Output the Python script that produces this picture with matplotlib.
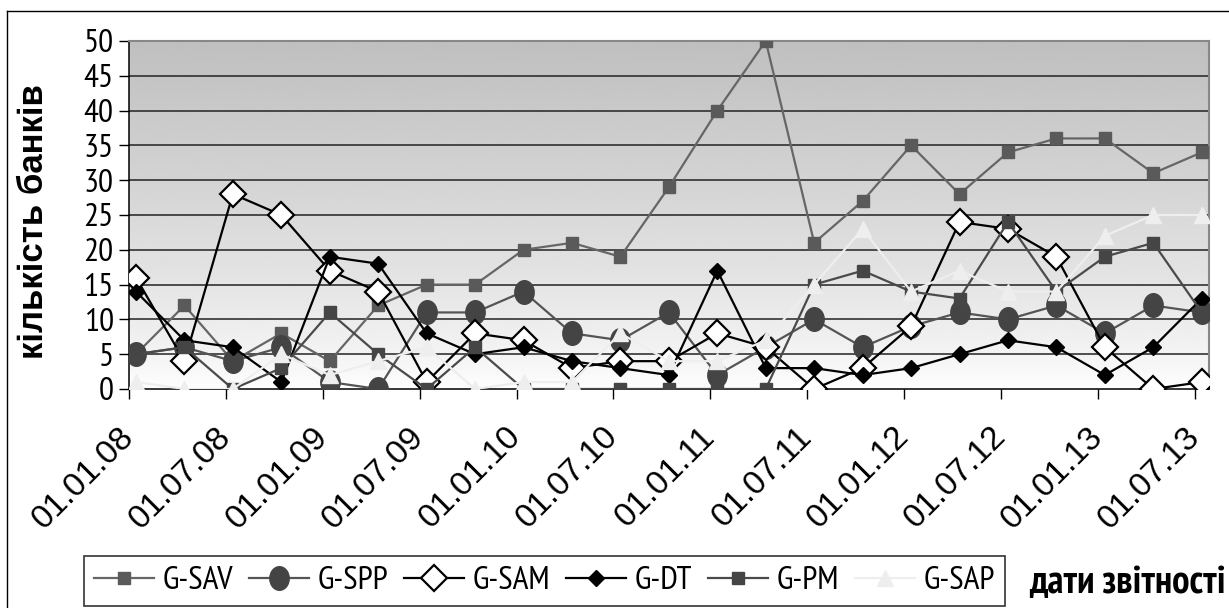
import numpy as np
import matplotlib.pyplot as plt
from matplotlib import font_manager
from matplotlib.path import Path
from matplotlib.lines import Line2D

# quarterly reporting dates, labelled every half year
dates = ['01.01.08', '01.07.08', '01.01.09', '01.07.09', '01.01.10', '01.07.10',
         '01.01.11', '01.07.11', '01.01.12', '01.07.12', '01.01.13', '01.07.13']

g_sav = [5, 12, 4, 8, 4, 12, 15, 15, 20, 21, 19, 29, 40, 50, 21, 27, 35, 28, 34, 36, 36, 31, 34]
g_spp = [5, 6, 4, 6, 1, 0, 11, 11, 14, 8, 7, 11, 2, 6, 10, 6, 9, 11, 10, 12, 8, 12, 11]
g_sam = [16, 4, 28, 25, 17, 14, 1, 8, 7, 3, 4, 4, 8, 6, 0, 3, 9, 24, 23, 19, 6, 0, 1]
g_dt = [14, 7, 6, 1, 19, 18, 8, 5, 6, 4, 3, 2, 17, 3, 3, 2, 3, 5, 7, 6, 2, 6, 13]
g_pm = [5, 6, 0, 3, 11, 5, 0, 6, 0, 0, 0, 0, 0, 0, 15, 17, 14, 13, 24, 14, 19, 21, 11]
g_sap = [1, 0, 0, 5, 2, 4, 6, 0, 1, 1, 8, 4, 4, 7, 15, 23, 14, 17, 14, 14, 22, 25, 25]

# pick a narrow Arial-like face if one is installed
avail = {f.name for f in font_manager.fontManager.ttflist}
narrow_name = next((n for n in ['Liberation Sans Narrow', 'Arimo Narrow', 'PT Sans Narrow',
                                'Roboto Condensed', 'Archivo Narrow'] if n in avail),
                   'Liberation Sans')
narrow = [narrow_name, 'DejaVu Sans']
regular = ['Liberation Sans', 'DejaVu Sans']
plt.rcParams['font.family'] = narrow

# slightly tall ellipse for the circle markers
circ = Path.unit_circle()
ellipse = Path(circ.vertices * np.array([0.82, 1.0]), circ.codes)

fig = plt.figure(figsize=(12.29, 6.08), dpi=100)
ax = fig.add_axes([0.10497, 0.36020, 0.87876, 0.57237])

x = np.arange(len(g_sav))
x0, x1 = -0.144, 22.15
ax.set_xlim(x0, x1)
ax.set_ylim(0, 50)

# grey-to-white vertical gradient behind the plot
t = np.linspace(1, 0, 256).reshape(-1, 1)
grad = 1 - 0.25 * t ** 0.75
ax.imshow(grad, extent=[x0, x1, 0, 50], aspect='auto', cmap='gray',
          vmin=0, vmax=1, zorder=0, interpolation='bicubic')

for yv in range(5, 51, 5):
    ax.axhline(yv, color='#222222', lw=1.1, zorder=1)

series = [
    ('G-SAV', g_sav, dict(color='#666666', marker='s', ms=9, mfc='#5a5a5a', mec='#5a5a5a')),
    ('G-SPP', g_spp, dict(color='#555555', marker=ellipse, ms=17, mfc='#444444', mec='#444444')),
    ('G-SAM', g_sam, dict(color='black', marker='D', ms=13, mfc='white', mec='black', mew=1.6)),
    ('G-DT', g_dt, dict(color='black', marker='D', ms=8, mfc='black', mec='black')),
    ('G-PM', g_pm, dict(color='#4a4a4a', marker='s', ms=9, mfc='#454545', mec='#454545')),
    ('G-SAP', g_sap, dict(color='#eeeeee', marker='^', ms=12, mfc='#eeeeee', mec='#eeeeee')),
]
handles = []
for name, vals, st in series:
    ln, = ax.plot(x, vals, lw=1.6, zorder=3, label=name, **st)
    handles.append(ln)

ax.set_yticks(range(0, 51, 5))
ax.set_yticklabels([str(v) for v in range(0, 51, 5)], fontsize=24)
ax.set_xticks([2 * k + x0 for k in range(len(dates))])
ax.set_xticklabels(dates, fontsize=24, family=regular,
                   rotation=45, ha='right', va='center', rotation_mode='anchor')
ax.tick_params(axis='y', length=7, width=1, pad=4)
ax.tick_params(axis='x', length=7, width=1, pad=24)

for side in ['left', 'bottom']:
    ax.spines[side].set_color('black')
    ax.spines[side].set_linewidth(1.1)
for side in ['right', 'top']:
    ax.spines[side].set_color('#888888')
    ax.spines[side].set_linewidth(1.5)

fig.text(0.027, 0.635, 'кількість банків', rotation=90, fontsize=25,
         fontweight='bold', family=regular, ha='center', va='center')
fig.text(0.997, 0.040, 'дати звітності', fontsize=28, fontweight='bold',
         ha='right', va='center')

leg = fig.legend(handles=handles, loc='lower left', ncol=6, mode='expand',
                 bbox_to_anchor=(0.0683, 0.003, 0.7494, 0.0822),
                 prop={'family': narrow, 'size': 24}, frameon=True, fancybox=False,
                 borderaxespad=0, handlelength=1.8, handletextpad=0.25,
                 columnspacing=0.5, borderpad=0.3)
leg.get_frame().set_edgecolor('black')
leg.get_frame().set_linewidth(1.2)

# thin frame around the whole chart
fig.add_artist(Line2D([7 / 1229, 7 / 1229], [0, 1 - 11 / 608], color='black', lw=1,
                      transform=fig.transFigure))
fig.add_artist(Line2D([7 / 1229, 1], [1 - 11 / 608, 1 - 11 / 608], color='black', lw=1,
                      transform=fig.transFigure))

fig.savefig('out.png', dpi=100)
